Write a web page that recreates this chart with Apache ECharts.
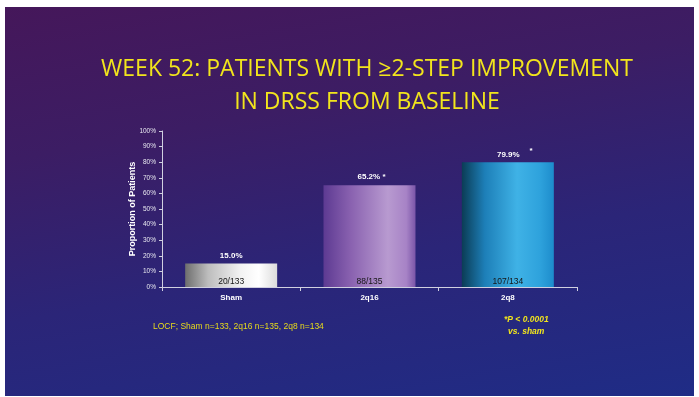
<!DOCTYPE html>
<html><head><meta charset="utf-8">
<script src="https://cdn.jsdelivr.net/npm/echarts@6/dist/echarts.min.js"></script>
<style>
html,body{margin:0;padding:0;background:#fff;width:699px;height:397px;overflow:hidden;}
#bg{position:absolute;left:5px;top:7px;width:689px;height:389px;
background:linear-gradient(170deg,#45175a 0%,#3c1d64 30%,#2b2578 62%,#1f2c86 100%);}
#c{position:absolute;left:0;top:0;width:699px;height:397px;}
</style></head>
<body><div id="bg"></div><div id="c"></div>
<script>
const categories = ['Sham', '2q16', '2q8'];
const values = [15.0, 65.2, 79.9];
const valueLabels = ['15.0%', '65.2%', '79.9%'];
const stars = ['', ' *', '*'];
const counts = ['20/133', '88/135', '107/134'];
const yTicks = [0, 10, 20, 30, 40, 50, 60, 70, 80, 90, 100];

const gradients = [
  [['#6e6e6e',0],['#bdbdbd',0.25],['#f2f2f2',0.6],['#ffffff',0.8],['#dcdcdc',1]],
  [['#5d3a92',0],['#8a62b0',0.3],['#b89ad0',0.7],['#a783c6',0.9],['#7a55a8',1]],
  [['#0b3c55',0],['#1d7fb8',0.25],['#3fb2e6',0.6],['#2ea2dc',0.85],['#1d8ccc',1]]
];
function grad(stops){
  return new echarts.graphic.LinearGradient(0,0,1,0, stops.map(s=>({offset:s[1],color:s[0]})));
}
const F = 'Liberation Sans, Arial, sans-serif';

const chart = echarts.init(document.getElementById('c'));
chart.setOption({
  animation:false,
  title:{
    text:'WEEK 52: PATIENTS WITH ≥2-STEP IMPROVEMENT\nIN DRSS FROM BASELINE',
    left:367, top:53, padding:0, textAlign:'center',
    textStyle:{color:'#f2e51c', fontFamily:'Open Sans, sans-serif', fontWeight:'normal', fontSize:23, lineHeight:33, align:'center'}
  },
  grid:{left:162, top:131, width:415, height:156},
  xAxis:{
    type:'category', data:categories,
    axisLine:{lineStyle:{color:'#d0d0e0', width:1}},
    axisTick:{show:true, length:4, lineStyle:{color:'#d0d0e0'}},
    axisLabel:{color:'#ffffff', fontWeight:'bold', fontSize:8, margin:7, fontFamily:F}
  },
  yAxis:{
    type:'value', min:0, max:100, interval:10,
    name:'Proportion of Patients', nameLocation:'middle', nameGap:25, nameRotate:90, nameMoveOverlap:false,
    nameTextStyle:{color:'#ffffff', fontWeight:'bold', fontSize:9, fontFamily:F},
    axisLine:{show:true, lineStyle:{color:'#d0d0e0'}},
    axisTick:{show:true, length:3, lineStyle:{color:'#d0d0e0'}},
    splitLine:{show:false},
    axisLabel:{color:'#e8e8f0', fontSize:6.5, margin:6, fontFamily:F,
      formatter:function(v){return yTicks.indexOf(v)>=0 ? v+'%' : '';}}
  },
  series:[{
    type:'bar', barWidth:92,
    data: values.map((v,i)=>({value:v, itemStyle:{color:grad(gradients[i])},
      label:{show:true, position:'top', distance:4, offset: i===2 ? [7,0] : (i===1 ? [2,0] : [0,0]),
        formatter: '{v|'+valueLabels[i]+'}' + (stars[i] ? (i===2 ? '   {s|*}' : '{v|'+stars[i]+'}') : ''),
        rich:{v:{color:'#ffffff', fontWeight:'bold', fontSize:8, fontFamily:F, verticalAlign:'bottom'},
              s:{color:'#ffffff', fontWeight:'bold', fontSize:8, fontFamily:F, verticalAlign:'top'}}}
    })),
    z:2
  },{
    type:'bar', barWidth:92, barGap:'-100%',
    data: values.map((v,i)=>({value:v, itemStyle:{color:'rgba(0,0,0,0)'},
      label:{show:true, position:'insideBottom', distance:1, formatter:counts[i],
        color:'#151515', fontSize:8.5, fontFamily:F}})),
    z:3, silent:true
  }],
  graphic:[
    {type:'text', left:153, top:322, style:{text:'LOCF; Sham n=133, 2q16 n=135, 2q8 n=134', fill:'#e8dc1a', fontSize:8.5, fontFamily:F}},
    {type:'text', left:504, top:315, style:{text:'*P < 0.0001', fill:'#f2e51c', fontSize:8.5, fontWeight:'bold', fontStyle:'italic', fontFamily:F}},
    {type:'text', left:508, top:327, style:{text:'vs. sham', fill:'#f2e51c', fontSize:8.5, fontWeight:'bold', fontStyle:'italic', fontFamily:F}}
  ]
});
</script></body></html>
